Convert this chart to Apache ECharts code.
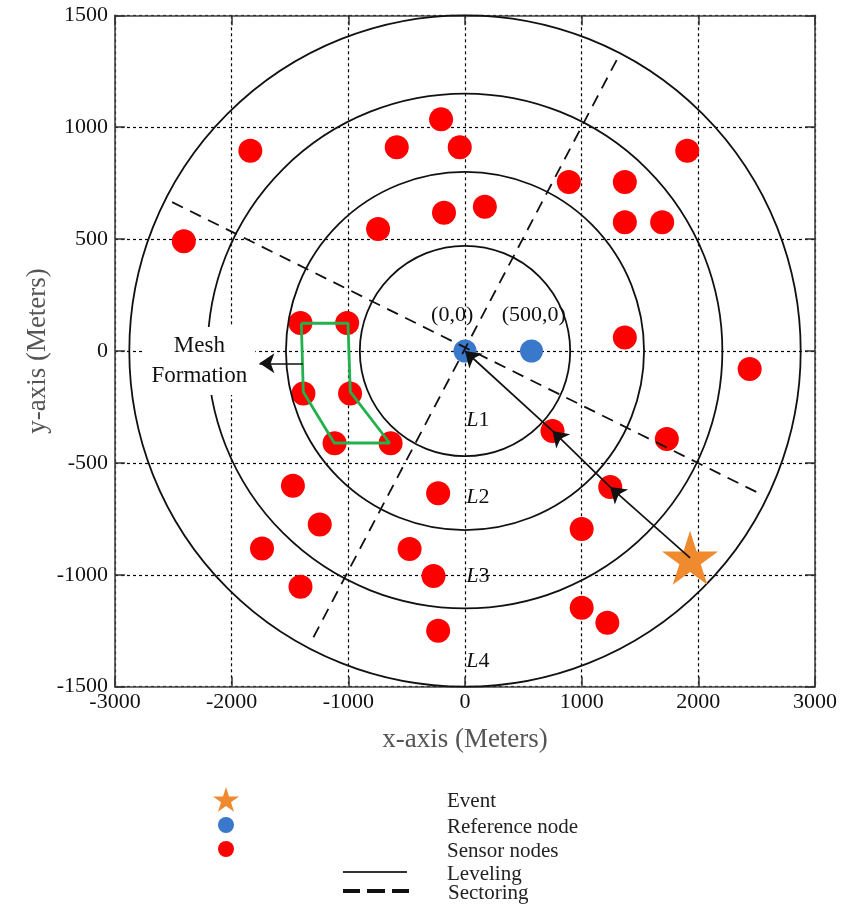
<!DOCTYPE html>
<html><head><meta charset="utf-8">
<script src="https://cdn.jsdelivr.net/npm/echarts@6/dist/echarts.min.js"></script>
<style>html,body{margin:0;padding:0;background:#fff}#c{width:843px;height:907px}</style>
</head><body><div id="c"></div>
<script>
// ---- data ----
const xRange = [-3000, 3000];
const yRange = [-1500, 1500];
const xStep = 1000;
const yStep = 500;

const sensorNodes = [
  [-1840, 895], [-2410, 490], [-585, 910], [-745, 545], [-1410, 125], [-1010, 125],
  [-205, 1035], [-45, 910], [-180, 618], [170, 645], [890, 755], [1370, 755],
  [1370, 575], [1690, 575], [1905, 895], [1370, 60], [2440, -80], [750, -357],
  [1730, -393], [1245, -608], [-230, -636], [1000, -795], [-270, -1005], [1000, -1147],
  [1220, -1214], [-230, -1250], [-1385, -190], [-985, -190], [-1118, -412], [-638, -412],
  [-1475, -602], [-1245, -775], [-1740, -882], [-1410, -1053], [-475, -885]
];
const referenceNodes = [[0, 0], [570, 0]];
const eventPoint = [[1929, -924]];
const levelRadii = [470, 800, 1150, 1500];
const sectorA = [[-2510, 665], [2517, -635]];
const sectorB = [[1300, 1300], [-1310, -1290]];
const meshPolygon = [[-1403, 124], [-1003, 124], [-983, -183], [-646, -411], [-1120, -411], [-1386, -183], [-1403, 124]];
const routePath = [[1929, -924], [1245, -608], [750, -357], [0, 0]];
const meshArrow = [[-1390, -55], [-1762, -55]];
const refLabels = [['(0,0)', -110, 161], ['(500,0)', 590, 161]];
const levelLabels = [['1', 10, -308], ['2', 10, -655], ['3', 10, -1005], ['4', 10, -1388]];
const meshLabel = [['Mesh\nFormation', -2277, -45]];

const serif = 'Liberation Serif';
const starPath = 'path://M50,0 L61.23,34.55 L97.55,34.55 L68.17,55.9 L79.39,90.45 L50,69.1 L20.61,90.45 L31.83,55.9 L2.45,34.55 L38.77,34.55 Z';
const dashIcon = 'path://M0,0h15v2h-15z M24,0h16v2h-16z M49,0h15v2h-15z';
const RED = '#ff0000', BLUE = '#3a78cc', ORANGE = '#f08a2e', GREEN = '#22b14c';

const chart = echarts.init(document.getElementById('c'), null, {renderer: 'canvas'});

const gridDash = {show: true, lineStyle: {type: [3, 3], color: '#000', width: 1.2}};
const tickIn = {show: true, inside: true, length: 10, lineStyle: {color: '#333', width: 1.5}};
const axisLn = {show: true, onZero: false, lineStyle: {color: '#444', width: 1.6}};
const plainNum = v => String(v);

const routeSegs = [];
for (let i = 0; i < routePath.length - 1; i++) routeSegs.push({coords: [routePath[i], routePath[i + 1]]});

function legendItem(cfg) {
  return Object.assign({
    orient: 'vertical', selectedMode: false, padding: 0, symbolKeepAspect: true,
    formatter: n => '{t|' + n + '}'
  }, cfg, {
    textStyle: {fontFamily: serif, fontSize: 21, color: '#222', padding: [0, 0, 0, cfg.textPad],
      rich: {t: {fontFamily: serif, fontSize: 21, color: '#222', padding: [5, 0, 0, 0]}}}
  });
}

const textSeries = (name, z, data, label) => ({
  name: name, type: 'scatter', z: z, symbolSize: 0, silent: true,
  itemStyle: {opacity: 1}, data: data, label: label
});

const option = {
  backgroundColor: '#fff',
  animation: false,
  grid: {left: 115, top: 15.3, width: 700, height: 671.4, containLabel: false},
  xAxis: [{
    type: 'value', min: xRange[0], max: xRange[1], interval: xStep,
    name: 'x-axis (Meters)', nameLocation: 'middle', nameGap: 40, nameMoveOverlap: false,
    nameTextStyle: {fontFamily: serif, fontSize: 27, color: '#555'},
    axisLine: axisLn, axisTick: tickIn, splitLine: gridDash,
    axisLabel: {fontFamily: serif, fontSize: 22, color: '#111', margin: 5, formatter: plainNum}
  }, {
    type: 'value', position: 'top', min: xRange[0], max: xRange[1], interval: xStep,
    axisLine: axisLn, axisTick: tickIn, splitLine: {show: false}, axisLabel: {show: false}
  }],
  yAxis: [{
    type: 'value', min: yRange[0], max: yRange[1], interval: yStep,
    name: 'y-axis (Meters)', nameLocation: 'middle', nameGap: 64, nameMoveOverlap: false,
    nameTextStyle: {fontFamily: serif, fontSize: 27, color: '#555'},
    axisLine: axisLn, axisTick: tickIn, splitLine: gridDash,
    axisLabel: {fontFamily: serif, fontSize: 22, color: '#111', margin: 7, formatter: plainNum}
  }, {
    type: 'value', position: 'right', min: yRange[0], max: yRange[1], interval: yStep,
    axisLine: axisLn, axisTick: tickIn, splitLine: {show: false}, axisLabel: {show: false}
  }],
  legend: [
    legendItem({left: 213, top: 787, itemWidth: 26, itemHeight: 26, textPad: 203,
      data: [{name: 'Event', icon: starPath}]}),
    legendItem({left: 218, top: 817, itemWidth: 16, itemHeight: 16, textPad: 208,
      data: [{name: 'Reference node', icon: 'circle'}]}),
    legendItem({left: 218, top: 841, itemWidth: 16, itemHeight: 16, textPad: 208,
      data: [{name: 'Sensor nodes', icon: 'circle'}]}),
    legendItem({left: 343, top: 864, itemWidth: 64, itemHeight: 2, textPad: 35,
      data: [{name: 'Leveling', icon: 'rect'}]}),
    legendItem({left: 343, top: 883, itemWidth: 64, itemHeight: 2, textPad: 35,
      data: [{name: 'Sectoring', icon: dashIcon}]})
  ],
  series: [
    {
      name: 'Sensor nodes', type: 'scatter', z: 2, symbol: 'circle', symbolSize: 24,
      itemStyle: {color: RED, opacity: 1}, data: sensorNodes, silent: true
    },
    {
      name: 'Reference node', type: 'scatter', z: 2, symbol: 'circle', symbolSize: 23,
      itemStyle: {color: BLUE, opacity: 1}, data: referenceNodes, silent: true
    },
    {
      name: 'Leveling', type: 'custom', z: 3, clip: false, silent: true,
      itemStyle: {color: '#333'},
      data: levelRadii.map(r => [r]),
      encode: {x: -1, y: -1},
      renderItem: function (params, api) {
        const c = api.coord([0, 0]);
        const r = api.size([0, api.value(0)])[1];
        return {type: 'circle', shape: {cx: c[0], cy: c[1], r: r},
          style: {fill: 'none', stroke: '#111', lineWidth: 1.8}};
      }
    },
    {
      name: 'Sectoring', type: 'lines', coordinateSystem: 'cartesian2d', z: 3, silent: true,
      symbol: ['none', 'none'],
      lineStyle: {type: [12, 8], color: '#111', width: 1.8, opacity: 1}, itemStyle: {color: '#444'},
      data: [{coords: sectorA}, {coords: sectorB}]
    },
    {
      name: 'mesh', type: 'line', z: 4, symbol: 'none', silent: true,
      lineStyle: {color: GREEN, width: 2.8}, data: meshPolygon
    },
    {
      name: 'Event', type: 'scatter', z: 5, symbol: starPath, symbolSize: [56, 54],
      itemStyle: {color: ORANGE, opacity: 1}, data: eventPoint, silent: true
    },
    {
      name: 'route', type: 'lines', coordinateSystem: 'cartesian2d', z: 6, silent: true,
      symbol: ['none', 'arrow'], symbolSize: 15,
      lineStyle: {color: '#111', width: 1.7, opacity: 1},
      data: routeSegs
    },
    {
      name: 'meshArrow', type: 'lines', coordinateSystem: 'cartesian2d', z: 6, silent: true,
      symbol: ['none', 'arrow'], symbolSize: 15,
      lineStyle: {color: '#111', width: 1.7, opacity: 1},
      data: [{coords: meshArrow}]
    },
    textSeries('meshText', 5, meshLabel.map(d => ({name: d[0], value: [d[1], d[2]]})),
      {show: true, position: 'inside', formatter: '{b}', fontFamily: serif, fontSize: 23,
        color: '#111', lineHeight: 30, align: 'center', verticalAlign: 'middle',
        backgroundColor: '#fff', padding: [4, 8, 4, 8]}),
    textSeries('refText', 7, refLabels.map(d => ({name: d[0], value: [d[1], d[2]]})),
      {show: true, position: 'inside', formatter: '{b}', fontFamily: serif, fontSize: 22,
        color: '#111', align: 'center', verticalAlign: 'middle'}),
    textSeries('levelText', 7, levelLabels.map(d => ({name: d[0], value: [d[1], d[2]]})),
      {show: true, position: 'inside', formatter: '{i|L}{b}', fontFamily: serif, fontSize: 22,
        color: '#111', align: 'left', verticalAlign: 'middle',
        rich: {i: {fontFamily: serif, fontStyle: 'italic', fontSize: 22, color: '#111'}}})
  ]
};
chart.setOption(option);
</script></body></html>
